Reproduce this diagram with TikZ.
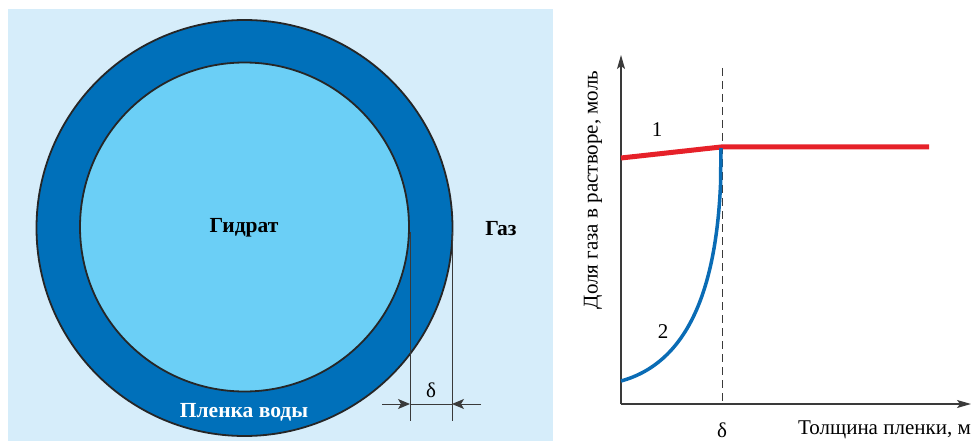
\documentclass[tikz,border=0pt]{standalone}
\usepackage{fontspec}
\setmainfont{Liberation Serif}
\newfontface\bserif{LiberationSerif-Bold}
\usetikzlibrary{arrows.meta}
\definecolor{bgblue}{HTML}{D6EDFA}
\definecolor{ringblue}{HTML}{0070BA}
\definecolor{coreblue}{HTML}{6BCFF6}
\definecolor{curvered}{HTML}{E62129}
\definecolor{curveblue}{HTML}{0A6CB5}
\definecolor{axisgray}{HTML}{3A3A3A}
\tikzset{
  ringline/.style={draw=black!85, line width=1.8pt},
  dimline/.style={draw=axisgray, line width=1pt},
  axisline/.style={draw=axisgray, line width=1.3pt, -{Stealth[length=14pt,width=8pt,inset=3pt]}},
  lbl/.style={font=\fontsize{21}{24}\selectfont, inner sep=0pt},
  blbl/.style={font=\bserif\fontsize{21.5}{24}\selectfont, inner sep=0pt},
}
\begin{document}
\begin{tikzpicture}[x=1pt,y=-1pt]
\useasboundingbox (0,0) rectangle (972,441);
% background panel
\fill[bgblue] (8,9) rectangle (553,441);
% circles
\filldraw[fill=ringblue, ringline] (244.5,228) circle[radius=208];
\filldraw[fill=coreblue, ringline] (244.5,227) circle[radius=164.5];
% texts in left panel
\node[blbl] (hyd) at (244,228) {Гидрат};
\node[blbl] (gas) at (501,229) {Газ};
\node[blbl, text=white] (film) at (244,412) {Пленка воды};
% dimension
\coordinate (d1t) at (410,232);
\coordinate (d1b) at (410,421);
\coordinate (d2t) at (452,232);
\coordinate (d2b) at (452,421);
\draw[dimline] (d1t) -- (d1b);
\draw[dimline] (d2t) -- (d2b);
\coordinate (a1s) at (382,404);
\coordinate (a1e) at (410,404);
\coordinate (a2s) at (481,404);
\coordinate (a2e) at (452,404);
\draw[dimline] (a1e) -- (a2e);
\draw[dimline, -{Stealth[length=12pt,width=10pt,inset=3pt]}] (a1s) -- (a1e);
\draw[dimline, -{Stealth[length=12pt,width=10pt,inset=3pt]}] (a2s) -- (a2e);
\node[lbl] (dl) at (431,390) {δ};
% graph
\coordinate (O) at (621,404);
\coordinate (ytip) at (621,55);
\coordinate (xtip) at (971,404);
\draw[axisline] (O) -- (ytip);
\draw[axisline] (O) -- (xtip);
\coordinate (dtop) at (722,68);
\coordinate (dbot) at (722,404);
\draw[axisgray, line width=1pt, dash pattern=on 8pt off 5pt] (dtop) -- (dbot);
\node[lbl] (dx) at (722,430) {δ};
\node[lbl, anchor=east] (xlab) at (971,430) {Толщина пленки, м};
\node[lbl, rotate=90] (ylab) at (593,190) {Доля газа в растворе, моль};
% curves
\coordinate (r0) at (621,158);
\coordinate (r1) at (721,147);
\coordinate (r2) at (929,147);
\draw[curvered, line width=5pt] (r0) -- (r1) -- (r2);
\coordinate (b0) at (621,381);
\coordinate (b1) at (720.5,185);
\coordinate (b2) at (721,148);
\draw[curveblue, line width=3.5pt] (b0) .. controls (690,362) and (716,285) .. (b1) -- (b2);
\node[lbl] (n1) at (657,130) {1};
\node[lbl] (n2) at (663,332) {2};
\end{tikzpicture}
\end{document}
